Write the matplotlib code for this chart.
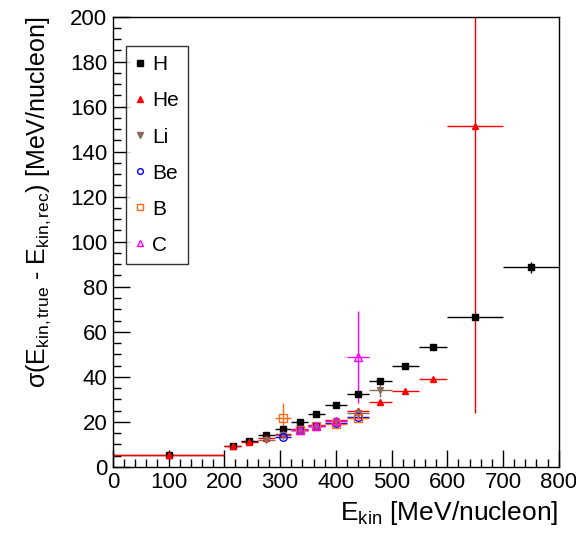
import matplotlib
matplotlib.use("Agg")
import matplotlib.pyplot as plt
from matplotlib.ticker import MultipleLocator
from matplotlib.lines import Line2D

plt.rcParams['font.family'] = ['Liberation Sans', 'DejaVu Sans']
plt.rcParams['mathtext.fontset'] = 'custom'
plt.rcParams['mathtext.rm'] = 'Liberation Sans'
plt.rcParams['mathtext.it'] = 'Liberation Sans'

# bin centres and half widths (MeV/nucleon)
h_x = [100, 215, 245, 275, 305, 335, 365, 400, 440, 480, 525, 575, 650, 750]
h_xerr = [100, 15, 15, 15, 15, 15, 15, 20, 20, 20, 25, 25, 50, 50]
h_y = [5.2, 9.3, 11.6, 14.2, 16.9, 20.0, 23.5, 27.6, 32.4, 38.2, 44.9, 53.3, 66.7, 88.6]
h_yerr = [0.4, 0.5, 0.5, 0.6, 0.6, 0.6, 0.7, 0.8, 0.9, 1.0, 1.0, 1.0, 1.2, 2.4]

he_x = [100, 215, 245, 275, 305, 335, 365, 400, 440, 480, 525, 575, 650]
he_xerr = [100, 15, 15, 15, 15, 15, 15, 20, 20, 20, 25, 25, 50]
he_y = [5.3, 9.3, 11.0, 12.6, 14.4, 16.6, 18.7, 20.8, 24.9, 28.9, 33.8, 38.8, 151.4]
he_yerr = [0.4, 0.5, 0.5, 0.6, 0.6, 0.6, 0.7, 0.8, 1.0, 1.2, 1.0, 1.0, 127.7]

li_x = [275, 305, 335, 365, 400, 440, 480]
li_xerr = [15, 15, 15, 15, 20, 20, 20]
li_y = [12.0, 14.0, 16.2, 18.2, 20.2, 23.7, 34.1]
li_yerr = [1.0, 0.8, 0.8, 0.8, 1.0, 1.2, 3.2]

be_x = [305, 335, 365, 400, 440]
be_xerr = [15, 15, 15, 20, 20]
be_y = [13.3, 16.2, 18.0, 19.5, 22.2]
be_yerr = [0.8, 0.6, 0.6, 0.8, 0.9]

b_x = [305, 335, 365, 400, 440]
b_xerr = [15, 15, 15, 20, 20]
b_y = [21.8, 16.3, 18.0, 19.2, 21.8]
b_yerr = [6.5, 0.8, 0.8, 0.9, 1.0]

c_x = [335, 365, 400, 440]
c_xerr = [15, 15, 20, 20]
c_y = [16.3, 18.3, 20.5, 48.9]
c_yerr = [0.8, 0.8, 1.0, 20.5]

series = [
    ("H", h_x, h_xerr, h_y, h_yerr, "black", "s", "black", 5.0),
    ("He", he_x, he_xerr, he_y, he_yerr, "#ff0000", "^", "#ff0000", 5.0),
    ("Li", li_x, li_xerr, li_y, li_yerr, "#8b6a5a", "v", "#8b6a5a", 5.0),
    ("Be", be_x, be_xerr, be_y, be_yerr, "#0000ff", "o", "none", 5.5),
    ("B", b_x, b_xerr, b_y, b_yerr, "#ff6a1a", "s", "none", 5.5),
    ("C", c_x, c_xerr, c_y, c_yerr, "#ff00ff", "^", "none", 6.0),
]

fig = plt.figure(figsize=(5.76, 5.39), dpi=100)
ax = fig.add_axes([0.196, 0.134, 0.774, 0.835])

handles = []
for name, x, xe, y, ye, col, mk, fc, ms in series:
    ax.errorbar(x, y, xerr=xe, yerr=ye, fmt=mk, color=col, mfc=fc,
                mec=col, ms=ms, mew=1.0, elinewidth=1.0, capsize=0)
    handles.append(Line2D([], [], linestyle='none', marker=mk, color=col,
                          mfc=fc, mec=col, ms=ms * 0.75, mew=1.0, label=name))

ax.set_xlim(0, 800)
ax.set_ylim(0, 200)
ax.xaxis.set_major_locator(MultipleLocator(100))
ax.xaxis.set_minor_locator(MultipleLocator(20))
ax.yaxis.set_major_locator(MultipleLocator(20))
ax.yaxis.set_minor_locator(MultipleLocator(5))
ax.tick_params(which='both', direction='in', top=False, right=False,
               labelsize=16, pad=4)
ax.tick_params(which='major', length=12, width=1)
ax.tick_params(which='minor', length=6, width=1)
for s in ax.spines.values():
    s.set_linewidth(1.0)

ax.set_xlabel(r"E$_{\mathregular{kin}}$ [MeV/nucleon]", fontsize=19, loc='right', labelpad=4)
ax.set_ylabel(r"$\mathregular{\sigma}$(E$_{\mathregular{kin,true}}$ - E$_{\mathregular{kin,rec}}$) [MeV/nucleon]",
              fontsize=18, loc='top', labelpad=12)

leg = ax.legend(handles=handles, loc='upper left', bbox_to_anchor=(0.03, 0.935),
                fontsize=15, frameon=True, fancybox=False, edgecolor='black',
                handlelength=0.45, handletextpad=0.35,
                labelspacing=0.82, borderpad=0.45, borderaxespad=0)
leg.get_frame().set_linewidth(1.0)

fig.savefig("out.png", dpi=100)
